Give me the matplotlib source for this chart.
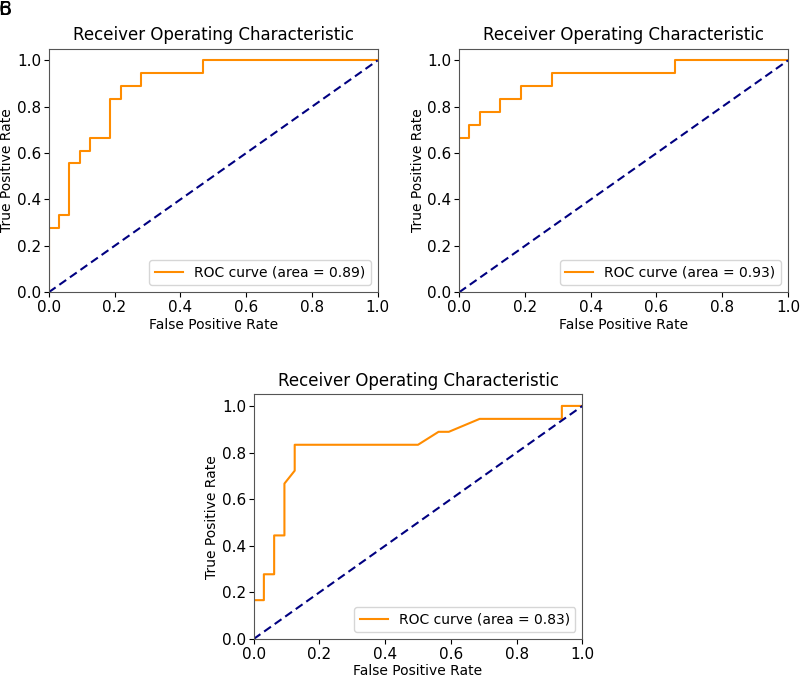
import matplotlib as mpl
mpl.use("Agg")
import matplotlib.pyplot as plt


# ROC curve data
fpr_a = [0.0, 0.0, 0.03125, 0.03125, 0.0625, 0.0625, 0.09375, 0.09375, 0.125, 0.125,
         0.1875, 0.1875, 0.21875, 0.21875, 0.28125, 0.28125, 0.46875, 0.46875, 1.0]
tpr_a = [0.0, 0.2778, 0.2778, 0.3333, 0.3333, 0.5556, 0.5556, 0.6111, 0.6111, 0.6667,
         0.6667, 0.8333, 0.8333, 0.8889, 0.8889, 0.9444, 0.9444, 1.0, 1.0]
auc_a = 0.89

fpr_b = [0.0, 0.0, 0.03125, 0.03125, 0.0625, 0.0625, 0.125, 0.125, 0.1875, 0.1875,
         0.28125, 0.28125, 0.65625, 0.65625, 1.0]
tpr_b = [0.0, 0.6667, 0.6667, 0.7222, 0.7222, 0.7778, 0.7778, 0.8333, 0.8333, 0.8889,
         0.8889, 0.9444, 0.9444, 1.0, 1.0]
auc_b = 0.93

fpr_c = [0.0, 0.0, 0.03125, 0.03125, 0.0625, 0.0625, 0.09375, 0.09375, 0.125, 0.125,
         0.5, 0.5625, 0.59375, 0.6875, 0.9375, 0.9375, 1.0]
tpr_c = [0.0, 0.1667, 0.1667, 0.2778, 0.2778, 0.4444, 0.4444, 0.6667, 0.7222, 0.8333,
         0.8333, 0.8889, 0.8889, 0.9444, 0.9444, 1.0, 1.0]
auc_c = 0.83

panels = [
  ([0.061, 0.569, 0.411, 0.359], fpr_a, tpr_a, auc_a),
  ([0.574, 0.569, 0.411, 0.359], fpr_b, tpr_b, auc_b),
  ([0.317, 0.0575, 0.411, 0.361], fpr_c, tpr_c, auc_c),
]


def drawRoc(ax, fpr, tpr, auc):
  ax.plot(fpr, tpr, color="darkorange", lw=1.5, label="ROC curve (area = %0.2f)" % auc)
  ax.plot([0, 1], [0, 1], color="navy", lw=1.5, linestyle="--", dashes=(4, 2.2))
  ax.set_xlim([0.0, 1.0])
  ax.set_ylim([0.0, 1.05])
  ax.set_xlabel("False Positive Rate", fontsize=10, labelpad=2)
  ax.set_ylabel("True Positive Rate", fontsize=10, labelpad=2)
  ax.set_title("Receiver Operating Characteristic", fontsize=12)
  ax.tick_params(labelsize=11, pad=2)
  for s in ax.spines.values(): s.set_edgecolor("#555555")
  ax.legend(loc="lower right", fontsize=10)


def main():
  fig = plt.figure(figsize=(8.0, 6.78), dpi=100)
  for rect, fpr, tpr, auc in panels:
    ax = fig.add_axes(rect)
    drawRoc(ax, fpr, tpr, auc)

  # overlapping panel marks in the top-left corner
  fig.text(-0.002, 1.0, "6", fontsize=14, ha="left", va="top")
  fig.text(-0.002, 1.0, "B", fontsize=14, ha="left", va="top")

  fig.savefig("out.png", dpi=100)


if __name__ == "__main__":
  main()
